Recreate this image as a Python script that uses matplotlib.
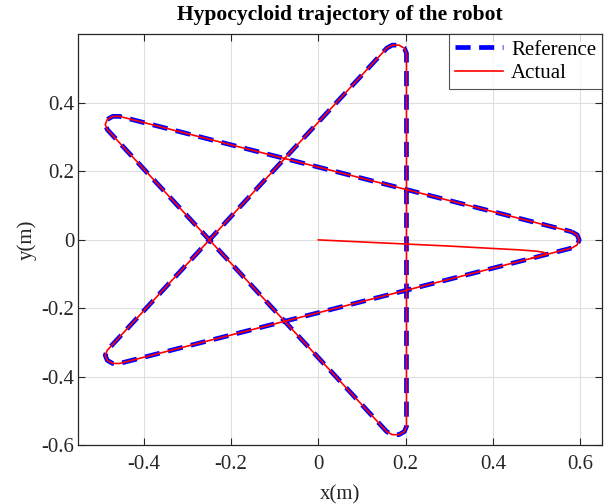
import matplotlib.pyplot as plt

plt.rcParams['font.family'] = ['Liberation Serif', 'DejaVu Serif']
plt.rcParams['axes.unicode_minus'] = False

# reference hypocycloid path (tips are rounded, edges nearly straight)
ref_x = [0.5805, 0.5930, 0.5978, 0.5930, 0.5805,
         -0.4556, -0.4711, -0.4836, -0.4883, -0.4836,
         0.1568, 0.1692, 0.1847, 0.1972, 0.2020,
         0.2020, 0.1972, 0.1847, 0.1692, 0.1568,
         -0.4836, -0.4883, -0.4836, -0.4711, -0.4556,
         0.5805]
ref_y = [0.0238, 0.0147, 0.0000, -0.0147, -0.0238,
         -0.3606, -0.3606, -0.3515, -0.3368, -0.3220,
         0.5595, 0.5684, 0.5685, 0.5594, 0.5447,
         -0.5447, -0.5594, -0.5685, -0.5684, -0.5595,
         0.3220, 0.3368, 0.3515, 0.3606, 0.3606,
         0.0238]

# measured robot path, starting from the origin
act_x = [0.0, 0.1, 0.2, 0.3, 0.4, 0.46, 0.5, 0.515, 0.522, 0.518, 0.505, 0.49,
         -0.4556, -0.4711, -0.4836, -0.4883, -0.4836,
         0.1568, 0.1692, 0.1847, 0.1972, 0.2020,
         0.2020, 0.1972, 0.1847, 0.1692, 0.1568,
         -0.4836, -0.4883, -0.4836, -0.4711, -0.4556,
         0.5805, 0.5930, 0.5978, 0.5930, 0.5805, 0.49]
act_y = [0.0, -0.006, -0.012, -0.018, -0.025, -0.029, -0.033, -0.036, -0.039, -0.043, -0.048, -0.0532,
         -0.3606, -0.3606, -0.3515, -0.3368, -0.3220,
         0.5595, 0.5684, 0.5685, 0.5594, 0.5447,
         -0.5447, -0.5594, -0.5685, -0.5684, -0.5595,
         0.3220, 0.3368, 0.3515, 0.3606, 0.3606,
         0.0238, 0.0147, 0.0000, -0.0147, -0.0238, -0.0532]

xticks = [-0.4, -0.2, 0, 0.2, 0.4, 0.6]
yticks = [-0.6, -0.4, -0.2, 0, 0.2, 0.4]

fig = plt.figure(figsize=(6.08, 5.04), dpi=100)
ax = fig.add_axes([0.1288, 0.1161, 0.8613, 0.8158])

ax.plot(ref_x, ref_y, color='blue', lw=3.4, dashes=(3.2, 1.8),
        solid_capstyle='butt', dash_capstyle='butt', label='Reference')
ax.plot(act_x, act_y, color='red', lw=1.2, label='Actual')

ax.set_xlim(-0.55, 0.65)
ax.set_ylim(-0.6, 0.6)
ax.set_xticks(xticks)
ax.set_xticklabels(['-0.4', '-0.2', '0', '0.2', '0.4', '0.6'])
ax.set_yticks(yticks)
ax.set_yticklabels(['-0.6', '-0.4', '-0.2', '0', '0.2', '0.4'])
ax.tick_params(direction='in', length=5, width=0.8, top=True, right=True,
               labelsize=15, colors='#262626')
ax.tick_params(axis='x', pad=7)
ax.tick_params(axis='y', pad=3)
ax.grid(True, color='#dfdfdf', lw=0.8)
for s in ax.spines.values():
    s.set_linewidth(0.9)
    s.set_color('#262626')

ax.set_title('Hypocycloid trajectory of the robot', fontsize=15.5,
             fontweight='bold', pad=10)
ax.set_xlabel('x(m)', fontsize=15, color='#262626', labelpad=8)
ax.set_ylabel('y(m)', fontsize=15, color='#262626', labelpad=3)

leg = ax.legend(loc='upper right', bbox_to_anchor=(1.0, 1.0), borderaxespad=0,
                fontsize=15, frameon=True, fancybox=False, handlelength=2.3,
                labelspacing=0.2, borderpad=0.28, handletextpad=0.4)
leg.get_frame().set_edgecolor('#262626')
leg.get_frame().set_linewidth(0.8)

fig.savefig('out.png', dpi=100)
